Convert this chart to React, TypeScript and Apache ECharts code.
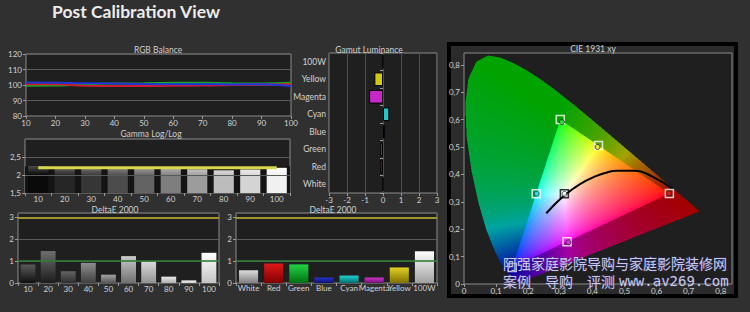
import React, { useEffect, useRef } from 'react';
import * as echarts from 'echarts';

// ---------------- data ----------------
const mainTitle = 'Post Calibration View';
const panelTitles = ['RGB Balance', 'Gamma Log/Log', 'DeltaE 2000', 'DeltaE 2000', 'Gamut Luminance', 'CIE 1931 xy'];

const rgbLevels = [10, 20, 30, 40, 50, 60, 70, 80, 90, 100];
const rgbRed = [100.5, 100.5, 99.5, 99.4, 99.4, 99.5, 99.6, 100, 100.4, 100.5];
const rgbGreen = [99.5, 99.6, 100.4, 100.9, 101.1, 101.4, 101.5, 101.1, 101, 101.5];
const rgbBlue = [101.6, 101.5, 101.1, 101, 100.6, 100.5, 100.5, 100.4, 100.5, 99.2];

const grayLevels = ['10', '20', '30', '40', '50', '60', '70', '80', '90', '100'];
const gammaValues = [2.25, 2.21, 2.2, 2.2, 2.19, 2.18, 2.16, 2.13, 2.15, 2.2];
const gammaTarget = [2.2, 2.2, 2.2, 2.2, 2.2, 2.2, 2.2, 2.2, 2.2, 2.2];

const deltaEGray = [0.85, 1.46, 0.54, 0.92, 0.38, 1.23, 0.98, 0.29, 0.12, 1.38];
const colorCats = ['White', 'Red', 'Green', 'Blue', 'Cyan', 'Magenta', 'Yellow', '100W'];
const deltaEColor = [0.58, 0.89, 0.85, 0.25, 0.34, 0.25, 0.71, 1.45];
const deltaEThresholds = [3, 1];

const gamutCats = ['White', 'Red', 'Green', 'Blue', 'Cyan', 'Magenta', 'Yellow', '100W'];
const gamutLum = [0, -0.15, -0.15, 0.1, 0.35, -0.77, -0.48, 0];

// CIE 1931 spectral locus (x, y)
const locusX = [0.1741, 0.1738, 0.1733, 0.1726, 0.1714, 0.1689, 0.1644, 0.1566, 0.144, 0.1241, 0.1096, 0.0913, 0.0687, 0.0454, 0.0235, 0.0082, 0.0039, 0.0139, 0.0389, 0.0743, 0.1142, 0.1547, 0.1929, 0.2296, 0.2658, 0.3016, 0.3373, 0.3731, 0.4087, 0.4441, 0.4788, 0.5125, 0.5448, 0.5752, 0.6029, 0.627, 0.6482, 0.6658, 0.6915, 0.7079, 0.719, 0.726, 0.7347];
const locusY = [0.005, 0.0049, 0.0048, 0.0048, 0.0051, 0.0069, 0.0109, 0.0177, 0.0297, 0.0578, 0.0868, 0.1327, 0.2007, 0.295, 0.4127, 0.5384, 0.6548, 0.7502, 0.812, 0.8338, 0.8262, 0.8059, 0.7816, 0.7543, 0.7243, 0.6923, 0.6589, 0.6245, 0.5896, 0.5547, 0.5202, 0.4866, 0.4544, 0.4242, 0.3965, 0.3725, 0.3514, 0.334, 0.3083, 0.292, 0.2809, 0.274, 0.2653];

// Planckian locus
const planckX = [0.6528, 0.5857, 0.5267, 0.477, 0.4369, 0.4053, 0.3805, 0.3451, 0.3221, 0.3064, 0.2952, 0.2807, 0.2637, 0.2565];
const planckY = [0.3444, 0.3931, 0.4133, 0.4137, 0.4041, 0.3907, 0.3768, 0.3516, 0.3318, 0.3166, 0.3048, 0.2883, 0.2673, 0.2577];

// targets: Red, Green, Blue, Cyan, Magenta, Yellow, White
const cieTargetX = [0.64, 0.3, 0.15, 0.225, 0.321, 0.419, 0.3127];
const cieTargetY = [0.33, 0.6, 0.06, 0.329, 0.154, 0.505, 0.329];
const cieMeasX = [0.639, 0.305, 0.151, 0.226, 0.325, 0.416, 0.313];
const cieMeasY = [0.331, 0.591, 0.061, 0.33, 0.152, 0.5, 0.329];

const CIE_XMAX = 0.835;
const CIE_YMAX = 0.843;

const watermark1 = '阿强家庭影院导购与家庭影院装修网';
const watermark2 = '案例　导购　评测';
const watermark3 = 'www.av269.com';

// ---------------- styles ----------------
const gammaTop = ['#4a4a4a', '#626262', '#707070', '#828282', '#979797', '#ababab', '#c2c2c2', '#d8d8d8', '#eaeaea', '#ffffff'];
const gammaBottom = ['#0a0a0a', '#262626', '#363636', '#4c4c4c', '#636363', '#7e7e7e', '#9c9c9c', '#bcbcbc', '#d4d4d4', '#f0f0f0'];
const dEGrayTop = ['#5a5a5a', '#6e6e6e', '#646464', '#8e8e8e', '#a4a4a4', '#cacaca', '#dadada', '#e8e8e8', '#f2f2f2', '#ffffff'];
const dEGrayBottom = ['#101010', '#1c1c1c', '#2e2e2e', '#404040', '#555555', '#707070', '#929292', '#b0b0b0', '#cccccc', '#c4c4c4'];
const dEColorTop = ['#dadada', '#e01818', '#22d444', '#2434d0', '#22d0d0', '#d234d0', '#e2d222', '#ffffff'];
const dEColorBottom = ['#808080', '#800000', '#007012', '#101070', '#007070', '#701070', '#807000', '#a0a0a0'];
const gamutColors = ['#cccccc', '#b01212', '#12a022', '#1a2aa0', '#20c8c8', '#c828c8', '#d0c812', '#ffffff'];
const targetBorder = ['#ffffff', '#ffffff', '#ffffff', '#ffffff', '#ffffff', '#ffffff', '#000000'];
const measColor = ['#e02020', '#30d040', '#2030e0', '#30e0e0', '#e040e0', '#e0e030', '#ffffff'];

const FONT = 'Lato';

function grad(top: string, bottom: string, visibleFrac = 1) {
  return new echarts.graphic.LinearGradient(0, 0, 0, 1, [
    { offset: 0, color: top },
    { offset: Math.min(1, Math.max(0.001, visibleFrac)), color: bottom },
    { offset: 1, color: bottom },
  ]);
}

function inPolygon(px: number, py: number, xs: number[], ys: number[]) {
  let inside = false;
  for (let i = 0, j = xs.length - 1; i < xs.length; j = i++) {
    const xi = xs[i], yi = ys[i], xj = xs[j], yj = ys[j];
    if ((yi > py) !== (yj > py) && px < ((xj - xi) * (py - yi)) / (yj - yi) + xi) inside = !inside;
  }
  return inside;
}

function buildCieImage(w: number, h: number) {
  const c = document.createElement('canvas');
  c.width = w;
  c.height = h;
  const ctx = c.getContext('2d')!;
  const img = ctx.createImageData(w, h);
  const tx = cieTargetX.slice(0, 3);
  const ty = cieTargetY.slice(0, 3);
  for (let py = 0; py < h; py++) {
    for (let px = 0; px < w; px++) {
      const x = ((px + 0.5) / w) * CIE_XMAX;
      const y = CIE_YMAX - ((py + 0.5) / h) * CIE_YMAX;
      const idx = (py * w + px) * 4;
      if (!inPolygon(x, y, locusX, locusY)) {
        img.data[idx + 3] = 0;
        continue;
      }
      const X = x / y, Z = (1 - x - y) / y;
      let r = 3.2406 * X - 1.5372 - 0.4986 * Z;
      let g = -0.9689 * X + 1.8758 + 0.0415 * Z;
      let b = 0.0557 * X - 0.204 + 1.057 * Z;
      r = Math.max(0, r); g = Math.max(0, g); b = Math.max(0, b);
      const inside = inPolygon(x, y, tx, ty);
      let k = 1, gm = 1 / 1.7;
      if (!inside) {
        g *= 2.2;
        k = 0.64;
        gm = 1 / 1.3;
      }
      const m = Math.max(r, g, b) || 1;
      img.data[idx] = Math.round(255 * k * Math.pow(r / m, gm));
      img.data[idx + 1] = Math.round(255 * k * Math.pow(g / m, gm));
      img.data[idx + 2] = Math.round(255 * k * Math.pow(b / m, gm));
      img.data[idx + 3] = 255;
    }
  }
  ctx.putImageData(img, 0, 0);
  return c.toDataURL();
}

const comma = (v: number) => String(+(+v).toFixed(2)).replace('.', ',');

export default function App() {
  const ref = useRef<HTMLDivElement>(null);
  useEffect(() => {
    if (!ref.current) return;
    const chart = echarts.init(ref.current, undefined, { renderer: 'svg' });
    const cieImg = buildCieImage(536, 462);

    const label = (margin: number, extra: any = {}) => ({
      color: '#d2d2d2', fontSize: 8, fontFamily: FONT, margin, ...extra,
    });
    const tick = { show: true, length: 3, lineStyle: { color: '#9a9a9a' } };
    const split = (c = '#5a5a5a') => ({ show: true, lineStyle: { color: c, width: 1 } });
    const gridBase = { show: true, backgroundColor: '#1f1f1f', borderColor: '#8c8c8c', borderWidth: 1, containLabel: false };

    const titleAt = (text: string, cx: number, cy: number) => ({
      text, left: cx, top: cy - 5, textAlign: 'center', padding: 0,
      textStyle: { color: '#cfcfcf', fontSize: 8.5, fontWeight: 'normal', fontFamily: FONT },
    });

    const dEMarkLine = {
      silent: true, symbol: 'none', label: { show: false }, z: 6,
      data: [
        { yAxis: deltaEThresholds[0], lineStyle: { color: '#a89a2a', width: 2, type: 'solid', opacity: 0.95 } },
        { yAxis: deltaEThresholds[1], lineStyle: { color: '#2f7a36', width: 2, type: 'solid', opacity: 0.8 } },
      ],
    };

    const option: any = {
      animation: false,
      backgroundColor: '#303030',
      title: [
        { text: mainTitle, left: 52, top: 2, padding: 0, textStyle: { color: '#ececec', fontSize: 17.5, fontWeight: 'bold', fontFamily: FONT } },
        titleAt(panelTitles[0], 158, 50),
        titleAt(panelTitles[1], 151, 134),
        titleAt(panelTitles[2], 115, 210),
        titleAt(panelTitles[3], 333, 210),
        titleAt(panelTitles[4], 369, 50),
        titleAt(panelTitles[5], 593, 49),
      ],
      grid: [
        { ...gridBase, left: 26, top: 54, width: 265, height: 62 },
        { ...gridBase, left: 25, top: 139, width: 265, height: 54 },
        { ...gridBase, left: 18, top: 213, width: 201, height: 70 },
        { ...gridBase, left: 236, top: 213, width: 201, height: 70 },
        { ...gridBase, left: 329, top: 53, width: 108, height: 140 },
        { ...gridBase, left: 464, top: 53, width: 268, height: 231 },
      ],
      xAxis: [
        { type: 'value', gridIndex: 0, min: 10, max: 100, interval: 10, axisLine: { show: false }, axisTick: tick, splitLine: { show: false }, axisLabel: label(3) },
        { type: 'category', gridIndex: 1, data: grayLevels, axisLine: { show: false }, axisTick: tick, axisLabel: label(2) },
        { type: 'category', gridIndex: 2, data: grayLevels, axisLine: { show: false }, axisTick: tick, axisLabel: label(2) },
        { type: 'category', gridIndex: 3, data: colorCats, axisLine: { show: false }, axisTick: tick, axisLabel: label(1, { fontSize: 8, interval: 0 }) },
        { type: 'value', gridIndex: 4, min: -3, max: 3, interval: 1, axisLine: { show: false }, axisTick: tick, splitLine: split('#4e4e4e'), axisLabel: label(3) },
        { type: 'value', gridIndex: 5, min: 0, max: CIE_XMAX, interval: 0.1, axisLine: { show: false }, axisTick: tick, splitLine: { show: false }, axisLabel: label(3, { formatter: comma, showMaxLabel: false }) },
      ],
      yAxis: [
        { type: 'value', gridIndex: 0, min: 80, max: 120, interval: 10, axisLine: { show: false }, axisTick: tick, splitLine: split(), axisLabel: label(4) },
        { type: 'value', gridIndex: 1, min: 1.5, max: 3, interval: 0.5, axisLine: { show: false }, axisTick: tick, splitLine: split(), axisLabel: label(4, { formatter: comma, showMaxLabel: false }) },
        { type: 'value', gridIndex: 2, min: 0, max: 3.2, interval: 1, axisLine: { show: false }, axisTick: tick, splitLine: split(), axisLabel: label(4, { showMaxLabel: false }) },
        { type: 'value', gridIndex: 3, min: 0, max: 3.2, interval: 1, axisLine: { show: false }, axisTick: tick, splitLine: split(), axisLabel: label(4, { showMaxLabel: false }) },
        { type: 'category', gridIndex: 4, data: gamutCats, axisLine: { show: false }, axisTick: tick, axisLabel: label(3, { interval: 0, fontSize: 8.5 }) },
        { type: 'value', gridIndex: 5, min: 0, max: CIE_YMAX, interval: 0.1, axisLine: { show: false }, axisTick: tick, splitLine: { show: false }, axisLabel: label(4, { formatter: comma, showMaxLabel: false }) },
      ],
      graphic: {
        elements: [
          { type: 'rect', z: -10, shape: { x: 449, y: 44, width: 287, height: 252 }, style: { fill: '#2b2b2b', stroke: '#000000', lineWidth: 4 } },
          { type: 'text', z: 100, x: 503, y: 263, style: { text: watermark1, fill: 'rgba(230,230,255,0.85)', stroke: 'rgba(60,60,140,0.6)', lineWidth: 1, font: '14px "Noto Sans CJK SC"', textVerticalAlign: 'middle' } },
          { type: 'text', z: 100, x: 503, y: 281, style: { text: watermark2, fill: 'rgba(230,230,255,0.85)', stroke: 'rgba(60,60,140,0.6)', lineWidth: 1, font: '14px "Noto Sans CJK SC"', textVerticalAlign: 'middle' } },
          { type: 'text', z: 100, x: 619, y: 281, style: { text: watermark3, fill: 'rgba(230,230,255,0.85)', stroke: 'rgba(60,60,140,0.6)', lineWidth: 0.8, font: '14px "DejaVu Sans Mono"', textVerticalAlign: 'middle' } },
        ],
      },
      series: [
        // RGB balance
        { type: 'line', xAxisIndex: 0, yAxisIndex: 0, data: rgbLevels.map((x, i) => [x, rgbGreen[i]]), smooth: true, symbol: 'none', lineStyle: { color: '#14a828', width: 2 }, z: 3 },
        { type: 'line', xAxisIndex: 0, yAxisIndex: 0, data: rgbLevels.map((x, i) => [x, rgbRed[i]]), smooth: true, symbol: 'none', lineStyle: { color: '#cc1e2a', width: 2 }, z: 3 },
        { type: 'line', xAxisIndex: 0, yAxisIndex: 0, data: rgbLevels.map((x, i) => [x, rgbBlue[i]]), smooth: true, symbol: 'none', lineStyle: { color: '#2233d8', width: 2 }, z: 3 },
        // Gamma background shade
        {
          type: 'line', xAxisIndex: 1, yAxisIndex: 1, data: [], z: 1, silent: true,
          markArea: { silent: true, itemStyle: { color: '#141414' }, data: [[{ yAxis: 1.5 }, { yAxis: 2.24 }]] },
          markLine: { silent: true, symbol: 'none', label: { show: false }, lineStyle: { color: '#5a5a5a', width: 1, type: 'solid' }, data: [{ yAxis: 2 }] },
        },
        {
          type: 'bar', xAxisIndex: 1, yAxisIndex: 1, barWidth: '76%', clip: true, z: 3,
          data: gammaValues.map((v, i) => ({ value: v, itemStyle: { color: grad(gammaTop[i], gammaBottom[i], (v - 1.5) / v) } })),
        },
        { type: 'line', xAxisIndex: 1, yAxisIndex: 1, data: gammaTarget, symbol: 'none', lineStyle: { color: '#d8d84c', width: 3 }, z: 4 },
        // DeltaE grayscale
        {
          type: 'bar', xAxisIndex: 2, yAxisIndex: 2, barWidth: '74%', z: 3,
          data: deltaEGray.map((v, i) => ({ value: v, itemStyle: { color: grad(dEGrayTop[i], dEGrayBottom[i]) } })),
          markLine: dEMarkLine,
        },
        // DeltaE colors
        {
          type: 'bar', xAxisIndex: 3, yAxisIndex: 3, barWidth: '76%', z: 3,
          data: deltaEColor.map((v, i) => ({ value: v, itemStyle: { color: grad(dEColorTop[i], dEColorBottom[i]) } })),
          markLine: dEMarkLine,
        },
        // Gamut luminance
        {
          type: 'bar', xAxisIndex: 4, yAxisIndex: 4, barWidth: '78%', z: 3,
          data: gamutLum.map((v, i) => ({ value: v, itemStyle: { color: gamutColors[i], borderColor: '#000', borderWidth: 1 } })),
        },
        // CIE diagram image
        {
          type: 'custom', xAxisIndex: 5, yAxisIndex: 5, data: [[0, 0]], z: 1, silent: true,
          renderItem: (_p: any, api: any) => {
            const p0 = api.coord([0, CIE_YMAX]);
            const p1 = api.coord([CIE_XMAX, 0]);
            return { type: 'image', style: { image: cieImg, x: p0[0], y: p0[1], width: p1[0] - p0[0], height: p1[1] - p0[1] } };
          },
        },
        { type: 'line', xAxisIndex: 5, yAxisIndex: 5, data: planckX.map((x, i) => [x, planckY[i]]), smooth: true, symbol: 'none', lineStyle: { color: '#000', width: 2 }, z: 4 },
        {
          type: 'scatter', xAxisIndex: 5, yAxisIndex: 5, symbol: 'rect', symbolSize: 8, z: 5,
          data: cieTargetX.map((x, i) => ({ value: [x, cieTargetY[i]], itemStyle: { color: 'rgba(0,0,0,0)', borderColor: targetBorder[i], borderWidth: 1.5 } })),
        },
        {
          type: 'scatter', xAxisIndex: 5, yAxisIndex: 5, symbol: 'circle', symbolSize: 5, z: 6,
          data: cieMeasX.map((x, i) => ({ value: [x, cieMeasY[i]], itemStyle: { color: measColor[i], borderColor: '#2a2a2a', borderWidth: 1 } })),
        },
      ],
    };
    chart.setOption(option);
    return () => chart.dispose();
  }, []);
  return <div ref={ref} style={{ position: 'fixed', left: 0, top: 0, width: 750, height: 312 }} />;
}
